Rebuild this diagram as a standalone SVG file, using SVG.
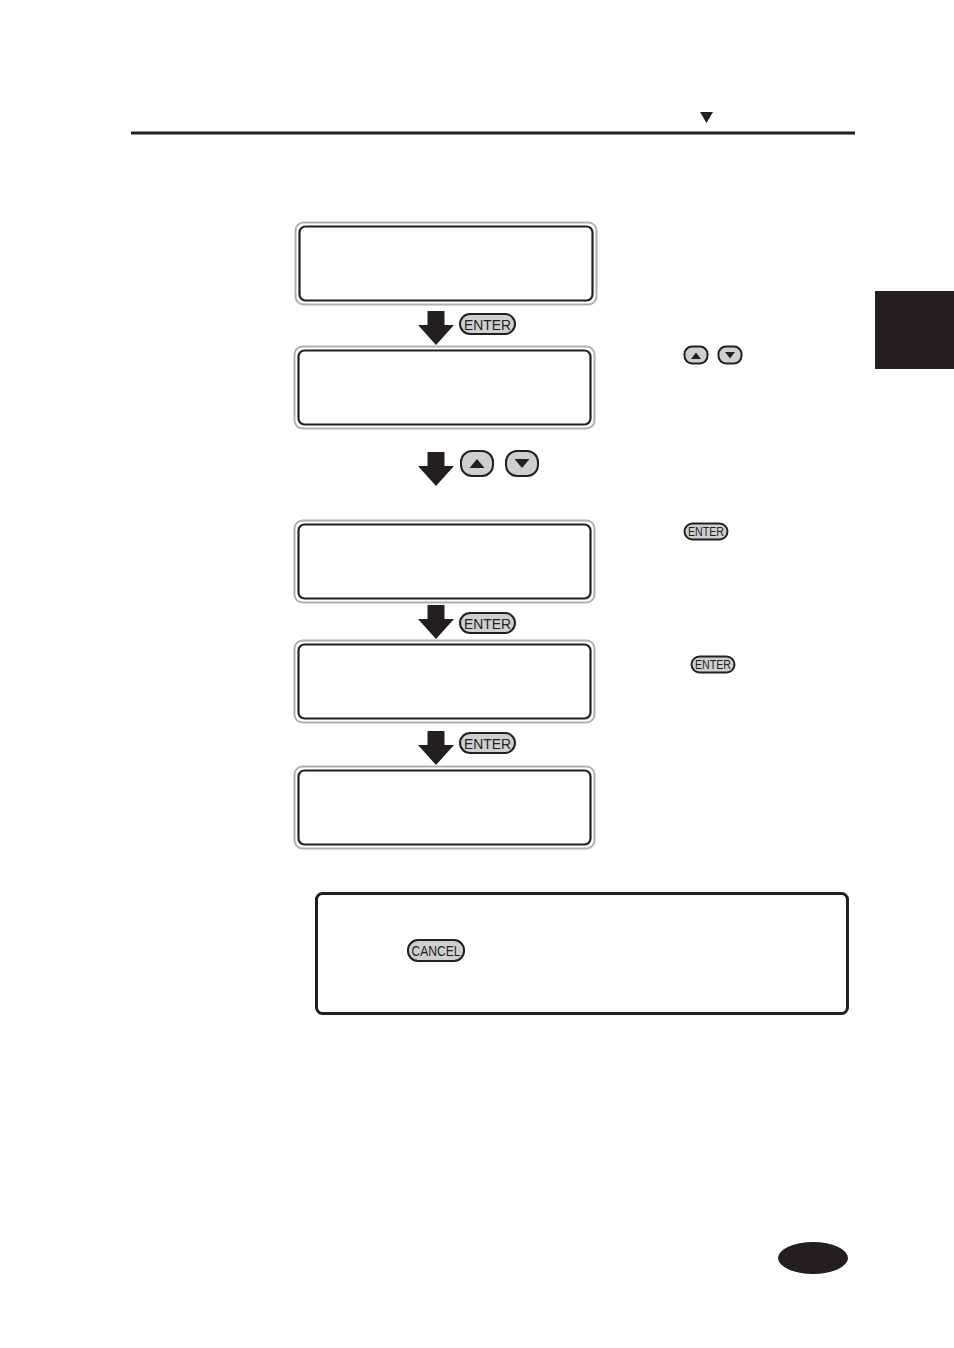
<svg xmlns="http://www.w3.org/2000/svg" width="954" height="1348" viewBox="0 0 954 1348">
<defs>
<style>
.lcdo{fill:#fff;stroke:#b0b0b0;stroke-width:2}
.lcdi{fill:#fff;stroke:#231f20;stroke-width:2.2}
.btn{fill:#cfcfcf;stroke:#231f20;stroke-width:2}
.bt{font-family:"Liberation Sans",Arial,sans-serif;font-size:15px;fill:#231f20;text-anchor:middle}
.bts{font-family:"Liberation Sans",Arial,sans-serif;font-size:12px;fill:#231f20;text-anchor:middle}
.arr{fill:#231f20}
</style>
<path id="darrow" class="arr" d="M-8.5 0 H8.5 V14 H18 L0 34 L-18 14 H-8.5 Z"/>
</defs>
<rect width="954" height="1348" fill="#fff"/>
<g id="header">
<rect x="131" y="131.5" width="724" height="3" fill="#231f20"/>
<path d="M700 112 H713 L706.5 123 Z" fill="#231f20"/>
</g>
<rect id="tab" x="875" y="291" width="79" height="78" fill="#231f20"/>
<ellipse id="pageno" cx="813" cy="1258" rx="35" ry="16" fill="#231f20"/>

<g id="lcd1"><rect class="lcdo" x="295.5" y="222.5" width="301" height="82" rx="8"/><rect class="lcdi" x="299.5" y="226.5" width="293" height="74" rx="6"/></g>
<g id="lcd2"><rect class="lcdo" x="294.5" y="346.5" width="300" height="82" rx="8"/><rect class="lcdi" x="298.5" y="350.5" width="292" height="74" rx="6"/></g>
<g id="lcd3"><rect class="lcdo" x="294.5" y="520.5" width="300" height="82" rx="8"/><rect class="lcdi" x="298.5" y="524.5" width="292" height="74" rx="6"/></g>
<g id="lcd4"><rect class="lcdo" x="294.5" y="640.5" width="300" height="82" rx="8"/><rect class="lcdi" x="298.5" y="644.5" width="292" height="74" rx="6"/></g>
<g id="lcd5"><rect class="lcdo" x="294.5" y="766.5" width="300" height="82" rx="8"/><rect class="lcdi" x="298.5" y="770.5" width="292" height="74" rx="6"/></g>

<g id="connectors">
<use href="#darrow" x="436" y="311"/>
<use href="#darrow" x="436" y="452"/>
<use href="#darrow" x="436" y="605"/>
<use href="#darrow" x="436" y="731"/>
</g>

<g id="btn-enter1"><rect class="btn" x="460" y="314" width="55" height="20" rx="10"/><text class="bt" x="487.5" y="329.5" textLength="47" lengthAdjust="spacingAndGlyphs">ENTER</text></g>
<g id="btn-updown"><rect class="btn" x="461" y="451" width="32" height="25" rx="11"/><path d="M469.5 468 H484.5 L477 459 Z" fill="#231f20"/><rect class="btn" x="506" y="451" width="32" height="25" rx="11"/><path d="M514.5 459 H529.5 L522 468 Z" fill="#231f20"/></g>
<g id="btn-enter3"><rect class="btn" x="460" y="613" width="55" height="20" rx="10"/><text class="bt" x="487.5" y="628.5" textLength="47" lengthAdjust="spacingAndGlyphs">ENTER</text></g>
<g id="btn-enter4"><rect class="btn" x="460" y="733" width="55" height="20" rx="10"/><text class="bt" x="487.5" y="748.5" textLength="47" lengthAdjust="spacingAndGlyphs">ENTER</text></g>

<g id="side-updown"><rect class="btn" x="684.5" y="346.5" width="23" height="17" rx="7.5" stroke-width="1.6"/><path d="M691 359 H701 L696 352.5 Z" fill="#231f20"/><rect class="btn" x="718.5" y="346.5" width="23" height="17" rx="7.5" stroke-width="1.6"/><path d="M725 352 H735 L730 358.5 Z" fill="#231f20"/></g>
<g id="side-enter1"><rect class="btn" x="684.5" y="523.5" width="43" height="16" rx="8" stroke-width="1.6"/><text class="bts" x="706" y="535.5" textLength="36" lengthAdjust="spacingAndGlyphs">ENTER</text></g>
<g id="side-enter2"><rect class="btn" x="691.5" y="656.5" width="43" height="16" rx="8" stroke-width="1.6"/><text class="bts" x="713" y="668.5" textLength="36" lengthAdjust="spacingAndGlyphs">ENTER</text></g>

<g id="note">
<rect x="316.5" y="893.5" width="531" height="120" rx="6" fill="#fff" stroke="#231f20" stroke-width="3"/>
<rect class="btn" x="408" y="940" width="56" height="21" rx="10"/><text class="bt" x="436" y="956" textLength="49" lengthAdjust="spacingAndGlyphs">CANCEL</text>
</g>
</svg>
